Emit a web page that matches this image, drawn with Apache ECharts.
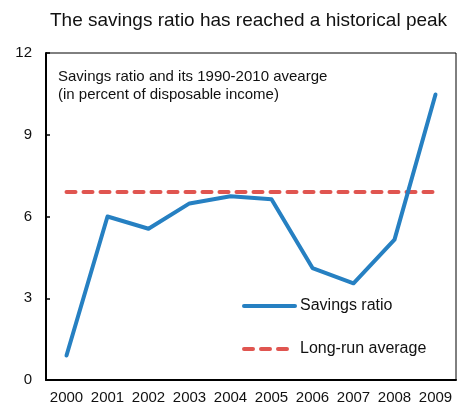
<!DOCTYPE html>
<html>
<head>
<meta charset="utf-8">
<script src="https://cdn.jsdelivr.net/npm/echarts@6/dist/echarts.min.js"></script>
<style>
  html, body { margin: 0; padding: 0; background: #fff; }
  #chart { width: 466px; height: 408px; }
</style>
</head>
<body>
<div id="chart"></div>
<script>
// data
var years = ['2000', '2001', '2002', '2003', '2004', '2005', '2006', '2007', '2008', '2009']
var savingsRatio = [0.9, 6.0, 5.55, 6.48, 6.74, 6.63, 4.11, 3.55, 5.15, 10.48]
var longRunAverage = [6.9, 6.9, 6.9, 6.9, 6.9, 6.9, 6.9, 6.9, 6.9, 6.9]

var myChart = echarts.init(document.getElementById('chart'))
myChart.setOption({
  animation: false,
  textStyle: { fontFamily: 'Liberation Sans' },
  title: [
    {
      text: 'The savings ratio has reached a historical peak',
      left: 45,
      top: 6,
      textStyle: { fontSize: 19, fontWeight: 'normal', color: '#111' },
    },
    {
      text: 'Savings ratio and its 1990-2010 avearge\n(in percent of disposable income)',
      left: 53,
      top: 63,
      textStyle: { fontSize: 15, fontWeight: 'normal', color: '#111', lineHeight: 18 },
    },
  ],
  grid: {
    left: 46,
    right: 10,
    top: 53,
    bottom: 28,
    show: true,
    borderColor: '#000',
    borderWidth: 1,
  },
  legend: {
    orient: 'vertical',
    left: 237,
    top: 293,
    itemWidth: 51,
    itemHeight: 14,
    itemGap: 27,
    itemStyle: { opacity: 0 },
    lineStyle: { width: 4, cap: 'round' },
    textStyle: { fontSize: 16, color: '#111' },
    data: ['Savings ratio', 'Long-run average'],
  },
  xAxis: {
    type: 'category',
    data: years,
    boundaryGap: true,
    axisLine: { lineStyle: { color: '#000', width: 2 } },
    axisTick: { inside: true, length: 4, lineStyle: { color: '#000', width: 1.5 } },
    axisLabel: { interval: 0, fontSize: 15, color: '#111', margin: 10 },
  },
  yAxis: {
    type: 'value',
    min: 0,
    max: 12,
    interval: 3,
    splitLine: { show: false },
    axisLine: { show: true, lineStyle: { color: '#000', width: 2 } },
    axisTick: { show: true, inside: true, length: 4, lineStyle: { color: '#000', width: 1.5 } },
    axisLabel: { fontSize: 15, color: '#111', margin: 14 },
  },
  series: [
    {
      name: 'Savings ratio',
      type: 'line',
      data: savingsRatio,
      symbol: 'none',
      lineStyle: { width: 4, color: '#2680C2', cap: 'round', join: 'round' },
      itemStyle: { color: '#2680C2' },
      z: 3,
    },
    {
      name: 'Long-run average',
      type: 'line',
      data: longRunAverage,
      symbol: 'none',
      lineStyle: { width: 4, color: '#E05550', type: [9, 8], cap: 'round' },
      itemStyle: { color: '#E05550' },
      z: 2,
    },
  ],
})
</script>
</body>
</html>
